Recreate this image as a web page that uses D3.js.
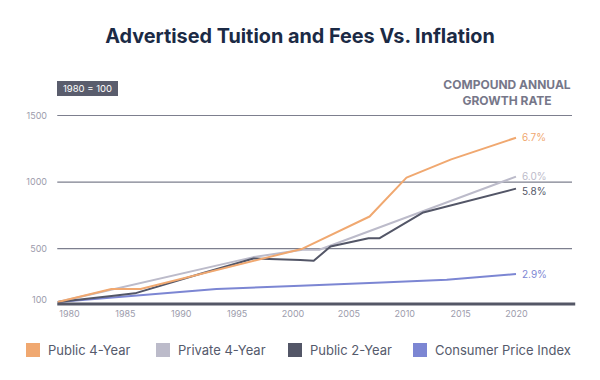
<!DOCTYPE html>
<html><head><meta charset="utf-8">
<script src="https://cdn.jsdelivr.net/npm/d3@7"></script>
<style>
html,body{margin:0;padding:0;background:#fff;}
svg{display:block;font-family:Inter,"Noto Sans",sans-serif;}
</style></head>
<body>
<svg id="chart" width="600" height="380"></svg>
<script>
// ---- data ----
const seriesNames = ["Public 4-Year", "Private 4-Year", "Public 2-Year", "Consumer Price Index"];
const seriesColors = ["#f0a870", "#bcbbca", "#535667", "#7c86d3"];
const growthLabels = ["6.7%", "6.0%", "5.8%", "2.9%"];
const public4Years  = [1979, 1983.8, 1986.4, 2000.9, 2006.9, 2010.2, 2014.2, 2020];
const public4Values = [100, 197, 197, 500, 742, 1034, 1171, 1333];
const private4Years  = [1979, 1996.5, 2000.9, 2002.4, 2020];
const private4Values = [100, 437, 492, 492, 1041];
const public2Years  = [1979, 1983.8, 1985.9, 1991.7, 1996.5, 2000.7, 2001.9, 2003.4, 2006.8, 2007.8, 2011.7, 2020];
const public2Values = [100, 145, 165, 310, 427, 415, 409, 517, 579, 579, 772, 951];
const cpiYears  = [1979, 1993.2, 2000.7, 2008, 2013.8, 2020];
const cpiValues = [100, 197, 222, 247, 267, 310];
const xTickYears = [1980, 1985, 1990, 1995, 2000, 2005, 2010, 2015, 2020];
const yTickValues = [100, 500, 1000, 1500];
const gridValues = [500, 1000, 1500];

const series = [
  {years: public4Years, values: public4Values},
  {years: private4Years, values: private4Values},
  {years: public2Years, values: public2Values},
  {years: cpiYears, values: cpiValues}
].map((s, i) => ({name: seriesNames[i], color: seriesColors[i], label: growthLabels[i],
  points: s.years.map((y, j) => ({year: y, value: s.values[j]}))}));

// ---- layout ----
const svg = d3.select("#chart");
const x = d3.scaleLinear().domain([1980, 2020]).range([69, 516]);
const y = d3.scaleLinear().domain([100, 1500]).range([302, 115.5]);
const axisStartYear = 1978.95, axisEndYear = 2025.3;

// title
const title = svg.append("text").attr("x", 300).attr("y", 43).attr("text-anchor", "middle")
  .attr("font-weight", 700).attr("font-size", 20).attr("fill", "#1b2a45")
  .text("Advertised Tuition and Fees Vs. Inflation");
const tw = title.node().getComputedTextLength();
title.attr("font-size", 20 * 390 / tw);

// index box
const box = svg.append("g").attr("transform", "translate(57,81)");
box.append("rect").attr("width", 61).attr("height", 15).attr("fill", "#5a5d6d");
box.append("text").attr("x", 30.5).attr("y", 11.3).attr("text-anchor", "middle")
  .attr("font-size", 9.5).attr("fill", "#fff").text("1980 = 100");

// CAGR header
const hdr = svg.append("text").attr("text-anchor", "middle").attr("font-weight", 700)
  .attr("font-size", 12).attr("fill", "#767789");
hdr.append("tspan").attr("x", 507).attr("y", 89).text("COMPOUND ANNUAL");
hdr.append("tspan").attr("x", 507).attr("y", 105).text("GROWTH RATE");

// gridlines
svg.append("g").selectAll("line").data(gridValues).join("line")
  .attr("x1", x(axisStartYear)).attr("x2", 572)
  .attr("y1", d => y(d)).attr("y2", d => y(d))
  .attr("stroke", "#7d7f8e").attr("stroke-width", 1.2);

// y axis labels
const yAxis = svg.append("g").attr("transform", "translate(47,0)")
  .call(d3.axisLeft(y).tickValues(yTickValues).tickFormat(d3.format("d")).tickSize(0).tickPadding(0));
yAxis.select(".domain").remove();
yAxis.selectAll("text").attr("font-family", "Inter,sans-serif").attr("font-size", 9)
  .attr("fill", "#9c9cac").attr("dy", "0.32em");
yAxis.selectAll(".tick").filter(d => d === 100).select("text").attr("dy", "0.05em");

// x axis labels
const xAxis = svg.append("g").attr("transform", "translate(0,311)")
  .call(d3.axisBottom(x).tickValues(xTickYears).tickFormat(d3.format("d")).tickSize(0).tickPadding(0));
xAxis.select(".domain").remove();
xAxis.selectAll("text").attr("font-family", "Inter,sans-serif").attr("font-size", 9)
  .attr("fill", "#9c9cac");

// lines
const line = d3.line().x(d => x(d.year)).y(d => y(d.value));
const order = [3, 1, 2, 0];
svg.append("g").selectAll("path").data(order.map(i => series[i])).join("path")
  .attr("d", d => line(d.points)).attr("fill", "none")
  .attr("stroke", d => d.color).attr("stroke-width", 2).attr("stroke-linejoin", "round");

// baseline
svg.append("line").attr("x1", x(axisStartYear)).attr("x2", x(axisEndYear))
  .attr("y1", 304).attr("y2", 304).attr("stroke", "#545766").attr("stroke-width", 3);

// end labels
const labelOffsets = [0, 0, 3, 0];
svg.append("g").selectAll("text").data(series).join("text")
  .attr("x", d => x(d.points[d.points.length - 1].year) + 6)
  .attr("y", (d, i) => y(d.points[d.points.length - 1].value) + labelOffsets[i])
  .attr("dy", "0.35em").attr("font-size", 10).attr("fill", d => d.color).text(d => d.label);

// legend
const legendX = [26, 156, 288, 413];
const lg = svg.append("g").selectAll("g").data(series).join("g")
  .attr("transform", (d, i) => `translate(${legendX[i]},343)`);
lg.append("rect").attr("width", 14).attr("height", 14).attr("fill", d => d.color);
lg.append("text").attr("x", 22).attr("y", 7).attr("dy", "0.35em").attr("font-size", 13)
  .attr("fill", "#555a6c").text(d => d.name);
</script>
</body></html>
